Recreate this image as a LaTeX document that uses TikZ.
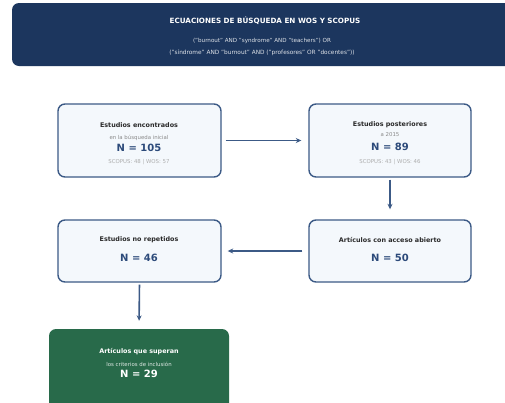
\documentclass[tikz,border=0pt]{standalone}
\usepackage{fontspec}
\setmainfont{DejaVu Sans}
\usetikzlibrary{arrows.meta}
\definecolor{navy}{HTML}{1C365E}
\definecolor{boxfill}{HTML}{F4F8FC}
\definecolor{boxline}{HTML}{3C5A86}
\definecolor{ncol}{HTML}{2C4A7A}
\definecolor{greenbox}{HTML}{286A4A}
\definecolor{ttl}{HTML}{2A2A2A}
\definecolor{sub}{HTML}{8A8A8A}
\begin{document}
\begin{tikzpicture}[x=1pt,y=-1pt,
  stepbox/.style={draw=boxline,line width=1.4pt,fill=boxfill,rounded corners=7pt,inner sep=0pt},
  greenstep/.style={fill=greenbox,rounded corners=7pt,inner sep=0pt},
  ttltext/.style={font=\fontsize{6.4}{8}\selectfont\bfseries,text=ttl,inner sep=0pt},
  subtext/.style={font=\fontsize{5.4}{7}\selectfont,text=sub,inner sep=0pt},
  ntext/.style={font=\fontsize{10}{12}\selectfont\bfseries,text=ncol,inner sep=0pt},
  conn/.style={draw=boxline,line width=1.6pt,-{Stealth[length=5.5pt,width=5pt]}}]
\useasboundingbox (0,0) rectangle (505,402);
\fill[white] (0,0) rectangle (505,402);
% header
\begin{scope}
\clip (0,0) rectangle (505,402);
\node[fill=navy,rounded corners=7pt,minimum width=506pt,minimum height=63pt,inner sep=0pt] (hdr) at (265,34.5) {};
\node[font=\fontsize{7.2}{8}\selectfont\bfseries,text=white,inner sep=0pt] (hdrtitle) at (265,21) {ECUACIONES DE BÚSQUEDA EN WOS Y SCOPUS};
\node[font=\fontsize{5.6}{6}\selectfont,text=white!85!navy,inner sep=0pt] (hdrl1) at (262,41) {("burnout" AND "syndrome" AND "teachers") OR};
\node[font=\fontsize{5.8}{6}\selectfont,text=white!85!navy,inner sep=0pt] (hdrl2) at (262,53) {("síndrome" AND "burnout" AND ("profesores" OR "docentes"))};
% boxes
\node[stepbox,minimum width=163pt,minimum height=73pt] (b1) at (139.5,140.5) {};
\node[stepbox,minimum width=162pt,minimum height=73pt] (b2) at (390,140.5) {};
\node[stepbox,minimum width=163pt,minimum height=62pt] (b3) at (139.5,251) {};
\node[stepbox,minimum width=162pt,minimum height=62pt] (b4) at (390,251) {};
\node[greenstep,minimum width=180pt,minimum height=90pt] (b5) at (139,374) {};
\end{scope}
% box texts
\node[ttltext] (b1t) at (139,125) {Estudios encontrados};
\node[subtext] (b1s) at (139,138) {en la búsqueda inicial};
\node[ntext] (b1n) at (139,148) {N = 105};
\node[subtext,text=sub!70] (b1d) at (139,162) {SCOPUS: 48 | WOS: 57};

\node[ttltext] (b2t) at (390,125) {Estudios posteriores};
\node[subtext] (b2s) at (390,135) {a 2015};
\node[ntext] (b2n) at (390,147) {N = 89};
\node[subtext,text=sub!70] (b2d) at (390,162) {SCOPUS: 43 | WOS: 46};

\node[ttltext] (b3t) at (139,240) {Estudios no repetidos};
\node[ntext] (b3n) at (139,258) {N = 46};

\node[ttltext] (b4t) at (390,240) {Artículos con acceso abierto};
\node[ntext] (b4n) at (390,258) {N = 50};

\node[ttltext,text=white] (b5t) at (139,352) {Artículos que superan};
\node[subtext,text=white!85!greenbox] (b5s) at (139,364) {los criterios de inclusión};
\node[ntext,text=white] (b5n) at (139,374) {N = 29};
% connectors
\draw[conn,shorten <=4pt,shorten >=7pt] (b1.east) -- (b2.west);
\draw[conn,shorten <=2pt,shorten >=10pt] (b2.south) -- (b4.north);
\draw[conn,shorten <=6pt,shorten >=6pt] (b4.west) -- (b3.east);
\draw[conn,shorten <=2pt,shorten >=8pt] (b3.south) -- (b5.north);
\end{tikzpicture}
\end{document}
